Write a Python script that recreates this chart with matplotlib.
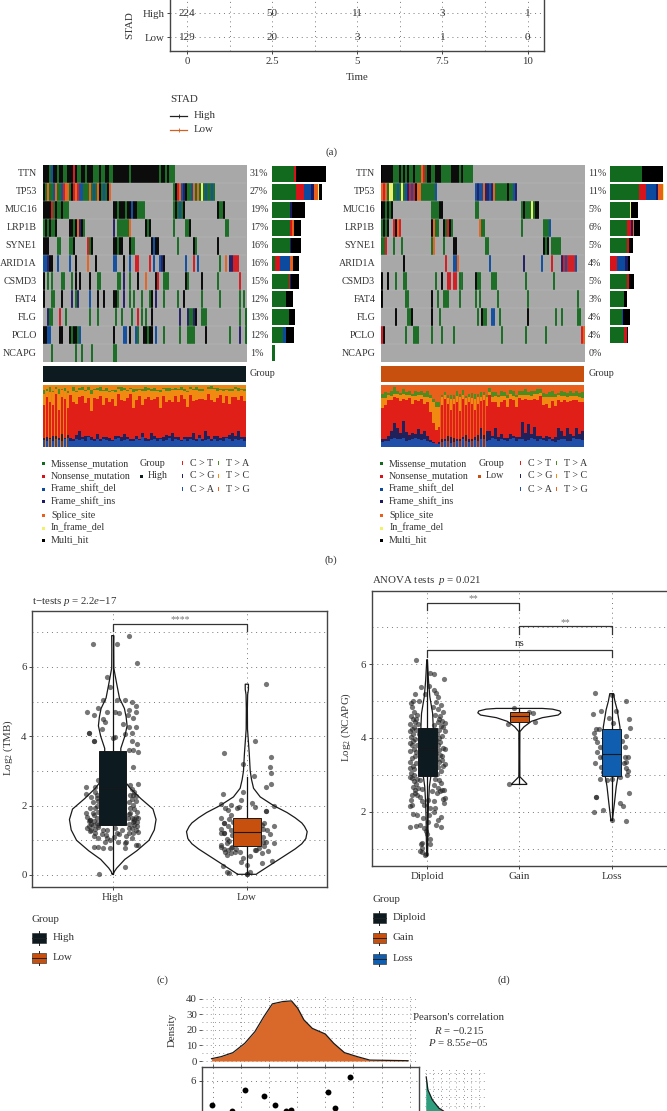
from __future__ import annotations

import matplotlib
matplotlib.use("Agg")
import matplotlib.pyplot as plt
import numpy as np
from matplotlib.colors import ListedColormap
from matplotlib.patches import Rectangle

plt.rcParams["font.family"] = ["Liberation Serif", "DejaVu Serif"]
plt.rcParams["mathtext.fontset"] = "custom"
plt.rcParams["mathtext.rm"] = "Liberation Serif"
plt.rcParams["mathtext.it"] = "Liberation Serif:italic"

W, H = 667, 1111
INK = "#333333"
GRID = "#777777"
DOT = (0, (1, 4))

# ---- panel a: risk table
TIME_TICKS = [0, 2.5, 5, 7.5, 10]
TIME_LABELS = ["0", "2.5", "5", "7.5", "10"]
RISK_HIGH = [224, 50, 11, 3, 1]
RISK_LOW = [129, 20, 3, 1, 0]

# ---- panel b: oncoplots
GENES = ["TTN", "TP53", "MUC16", "LRP1B", "SYNE1", "ARID1A", "CSMD3", "FAT4", "FLG", "PCLO", "NCAPG"]
PCT_HIGH = ["31%", "27%", "19%", "17%", "16%", "16%", "15%", "12%", "13%", "12%", "1%"]
PCT_LOW = ["11%", "11%", "5%", "6%", "5%", "4%", "5%", "3%", "4%", "4%", "0%"]

VARIANTS = ["Missense_mutation", "Nonsense_mutation", "Frame_shift_del", "Frame_shift_ins",
            "Splice_site", "In_frame_del", "Multi_hit"]
VARIANT_CODES = "MNDISFH"
VARIANT_COLORS = ["#126a1e", "#d6141c", "#0b4a9e", "#1c1a62", "#e8601c", "#f2f26a", "#000000"]
N_SAMPLES = 102

# (first sample, variant codes of consecutive samples), one list per gene
MUT_HIGH = [
    [(0, "HHHMDHHMHHMMHHHNHMMHHMHHHMMMHMMHHMMHHHHHHHHMHHHHHHHHHHHHHHMHHMHMMM")],
    [(0, "HMSMMDSMMDNSSMHNSNDDMMMSMDMSHMDMHS"), (65, "MHNSDIHMMDSMSMFMDMMDM")],
    [(0, "HHHHNMHMMHMMM"), (35, "HHMHHHMHHDHHMMMM"), (65, "MHMDMH"), (87, "HMMH")],
    [(0, "MHMHMMH"), (13, "HHMHSIHM"), (35, "I.MMMMMMS"), (51, "HMH"), (65, "M"), (71, "MMH"), (91, "MM")],
    [(0, "HHH"), (7, "MM"), (13, "MMH"), (22, "NMH"), (35, "HHMHH"), (43, "HMM"), (54, "HDHH"), (67, "M"),
     (75, "HM"), (87, "H")],
    [(0, "DDIHH"), (7, "D"), (13, "D"), (16, "H"), (22, "S"), (26, "H"), (35, "DD"), (40, "H"), (43, "D"),
     (46, "NN"), (53, "N"), (55, "D"), (58, "DIH"), (71, "D"), (75, "N"), (77, "D"), (88, "M"), (91, "S"),
     (93, "IINNN")],
    [(0, "H"), (2, "M"), (4, "M"), (9, "MM"), (14, "M"), (16, "H"), (18, "H"), (23, "H"), (27, "MM"),
     (37, "MM"), (40, "I"), (43, "M"), (47, "H"), (51, "S"), (56, "HN"), (60, "MMM"), (71, "HM"), (79, "H"),
     (87, "M"), (98, "N")],
    [(0, "H"), (4, "MM"), (9, "H"), (14, "I"), (16, "MI"), (23, "D"), (27, "H"), (30, "H"), (35, "HHM"),
     (40, "I"), (43, "M"), (45, "M"), (49, "M"), (53, "MH"), (56, "I"), (60, "M"), (67, "M"), (70, "H"),
     (79, "M"), (88, "M"), (98, "M"), (100, "M")],
    [(2, "IMM"), (8, "N"), (11, "M"), (23, "M"), (27, "M"), (36, "M"), (39, "M"), (44, "M"), (47, "N"),
     (49, "M"), (51, "M"), (54, "H"), (68, "I"), (72, "IMMIH"), (79, "MMM"), (98, "M"), (101, "M")],
    [(0, "HHDD"), (8, "HH"), (13, "HMHHMD"), (35, "H"), (40, "DD"), (43, "H"), (46, "DM"), (50, "HHMHH"),
     (56, "D"), (60, "M"), (68, "M"), (72, "MMMM"), (81, "H"), (93, "M"), (98, "I"), (101, "M")],
    [(4, "M"), (16, "M"), (19, "M"), (24, "M"), (35, "MM")],
]
MUT_LOW = [
    [(0, "HHHHHHMMMHMHMHMMHMMMSNMHHMMHHHMMMMMHHHHMHMMMMM")],
    [(0, "SNSMFFMMDMFMDINDNHSSMMMMMMMD"), (47, "DIDDSIIDISMMMMMMHMMDI")],
    [(0, "HHMHMH"), (25, "MMMMHH"), (47, "MM"), (70, "MHMMMFMHH")],
    [(0, "MHMH"), (6, "NHSN"), (25, "HSMM"), (31, "HMNHM"), (49, "SMM"), (70, "M"), (81, "MMMD")],
    [(0, "MMN"), (6, "M"), (10, "M"), (25, "MS"), (31, "M"), (36, "HH"), (52, "MM"), (81, "HMH"), (85, "MMMMM")],
    [(11, "H"), (32, "N"), (36, "DDS"), (54, "D"), (71, "I"), (80, "D"), (85, "N"), (90, "INDNNNND")],
    [(0, "H"), (3, "H"), (7, "M"), (11, "MM"), (27, "M"), (30, "H"), (33, "NN"), (36, "NN"), (39, "MM"),
     (47, "HMM"), (55, "MMM"), (72, "M"), (86, "M")],
    [(0, "H"), (12, "MM"), (25, "H"), (28, "M"), (31, "MM"), (33, "M"), (39, "M"), (47, "M"), (49, "M"),
     (58, "M"), (73, "M"), (98, "M")],
    [(7, "H"), (13, "MMH"), (25, "H"), (29, "M"), (48, "M"), (50, "HMM"), (55, "DD"), (59, "M"), (73, "H"),
     (87, "M"), (90, "M"), (98, "MM")],
    [(0, "NH"), (12, "M"), (16, "MMM"), (25, "M"), (30, "M"), (36, "M"), (60, "M"), (72, "M"), (82, "M"),
     (100, "NS")],
    [],
]

# side bars, one column per variant in VARIANT_CODES order
BAR_HIGH = [
    [66, 6, 0, 0, 0, 0, 91],
    [73, 22, 22, 9, 12, 3, 8],
    [55, 0, 0, 4, 0, 0, 39],
    [55, 4, 0, 0, 6, 0, 23],
    [55, 0, 0, 3, 0, 0, 28],
    [10, 15, 30, 0, 8, 0, 19],
    [50, 3, 0, 5, 0, 0, 22],
    [43, 0, 0, 0, 0, 0, 21],
    [50, 0, 0, 1, 0, 0, 17],
    [33, 0, 10, 0, 0, 0, 22],
    [9, 0, 0, 0, 0, 0, 0],
]
BAR_LOW = [
    [95, 0, 0, 0, 0, 0, 65],
    [87, 22, 30, 4, 15, 5, 0],
    [60, 0, 0, 0, 0, 2, 22],
    [52, 12, 0, 5, 3, 0, 18],
    [50, 8, 0, 0, 0, 0, 11],
    [0, 20, 25, 10, 0, 0, 5],
    [50, 8, 0, 0, 0, 0, 15],
    [42, 0, 0, 0, 0, 0, 8],
    [37, 0, 3, 0, 0, 0, 20],
    [42, 10, 0, 0, 0, 0, 3],
    [0, 0, 0, 0, 0, 0, 0],
]

SUBST_COLORS = {"C > A": "#1f4fa8", "C > G": "#20205a", "C > T": "#e02018",
                "T > C": "#f08a10", "T > A": "#4c8c20", "T > G": "#e8601c"}

# share of each substitution per sample column (percent), the rest is the top band
STACK_HIGH = {
    "C > A": [11, 10, 12, 9, 13, 11, 10, 12, 14, 10,
              9, 13, 11, 12, 10, 15, 11, 9, 12, 10,
              13, 11, 10, 9, 12, 14, 10, 11, 13, 9,
              10, 12, 11, 15, 10, 9, 11, 13, 10, 12,
              9, 11, 14, 10, 12, 11, 9, 13, 10, 12,
              11, 10, 14, 9, 11, 13, 10, 12, 9, 11,
              10, 14, 12, 10, 13, 11, 12, 10],
    "C > G": [3, 5, 2, 8, 4, 3, 11, 2, 5, 4,
              3, 6, 14, 3, 7, 2, 5, 4, 9, 2,
              3, 5, 4, 2, 6, 3, 5, 10, 2, 4,
              3, 5, 2, 7, 4, 3, 12, 5, 4, 2,
              6, 8, 3, 13, 4, 5, 2, 3, 6, 4,
              11, 2, 5, 3, 14, 4, 2, 6, 9, 3,
              5, 2, 7, 12, 4, 15, 3, 6],
    "C > T": [54, 66, 58, 51, 68, 46, 59, 64, 44, 69,
              61, 50, 56, 67, 54, 62, 42, 66, 56, 70,
              52, 63, 58, 66, 48, 68, 60, 53, 64, 72,
              50, 58, 69, 46, 64, 68, 52, 60, 66, 48,
              67, 54, 59, 50, 66, 56, 72, 62, 49, 68,
              52, 64, 58, 66, 50, 69, 63, 55, 61, 69,
              56, 66, 51, 58, 64, 50, 67, 58],
    "T > C": [18, 9, 16, 20, 8, 26, 12, 12, 24, 10,
              18, 20, 11, 10, 20, 13, 28, 13, 15, 9,
              22, 12, 16, 14, 22, 9, 15, 18, 11, 9,
              26, 16, 10, 22, 13, 12, 16, 13, 11, 27,
              11, 18, 14, 19, 10, 20, 9, 13, 24, 9,
              18, 16, 14, 12, 15, 8, 18, 20, 12, 9,
              20, 10, 20, 11, 12, 14, 10, 16],
    "T > A": [6, 3, 8, 2, 4, 7, 2, 5, 3, 1,
              5, 2, 3, 4, 1, 4, 6, 2, 3, 5,
              2, 4, 3, 1, 4, 2, 6, 3, 2, 1,
              5, 3, 2, 4, 6, 3, 2, 4, 1, 3,
              2, 4, 5, 1, 3, 2, 4, 3, 2, 3,
              1, 4, 2, 3, 1, 3, 5, 2, 4, 1,
              3, 2, 4, 2, 3, 5, 1, 4],
}
STACK_LOW = {
    "C > A": [8, 10, 9, 12, 14, 13, 12, 14, 10, 11,
              13, 14, 12, 11, 13, 10, 8, 6, 4, 5,
              7, 10, 9, 6, 8, 9, 10, 12, 9, 8,
              10, 11, 9, 12, 13, 10, 11, 14, 12, 10,
              13, 11, 9, 12, 14, 10, 12, 13, 9, 11,
              14, 12, 10, 13, 11, 9, 12, 10, 8, 11,
              13, 12, 9, 10, 14, 12, 13, 11],
    "C > G": [5, 3, 8, 14, 24, 18, 10, 28, 14, 8,
              9, 6, 16, 9, 12, 8, 3, 2, 1, 3,
              6, 2, 8, 9, 6, 3, 2, 4, 10, 5,
              3, 5, 10, 18, 6, 16, 14, 4, 18, 6,
              8, 3, 5, 9, 4, 6, 3, 27, 14, 25,
              6, 20, 8, 5, 3, 9, 4, 2, 8, 20,
              12, 6, 22, 10, 4, 18, 8, 14],
    "C > T": [50, 54, 58, 50, 42, 48, 52, 36, 52, 60,
              48, 56, 46, 58, 44, 54, 46, 30, 22, 24,
              54, 66, 52, 44, 56, 60, 46, 62, 48, 60,
              56, 44, 50, 44, 56, 40, 58, 54, 42, 48,
              52, 62, 50, 56, 58, 48, 64, 36, 54, 40,
              56, 46, 58, 64, 54, 52, 46, 62, 50, 44,
              48, 58, 42, 54, 58, 46, 52, 48],
    "T > C": [16, 12, 8, 6, 6, 6, 10, 8, 8, 5,
              12, 6, 10, 6, 12, 9, 22, 34, 38, 32,
              14, 5, 10, 18, 8, 10, 22, 5, 12, 8,
              10, 18, 12, 6, 8, 14, 5, 9, 10, 16,
              9, 6, 15, 8, 6, 16, 5, 8, 6, 8,
              6, 8, 9, 5, 12, 10, 18, 6, 14, 8,
              9, 6, 8, 8, 6, 6, 8, 6],
    "T > A": [6, 9, 4, 8, 10, 5, 3, 7, 4, 6,
              3, 8, 5, 7, 6, 9, 4, 6, 8, 9,
              3, 6, 4, 7, 5, 8, 6, 9, 3, 5,
              8, 7, 4, 9, 5, 3, 7, 8, 6, 4,
              9, 6, 5, 7, 8, 4, 6, 7, 10, 5,
              8, 4, 9, 6, 7, 5, 8, 10, 6, 4,
              9, 7, 6, 8, 5, 9, 6, 10],
}

# ---- panel c: TMB, (horizontal jitter, log2 TMB)
TMB_HIGH = [
    (.12, 6.9), (-.15, 6.66), (.03, 6.66), (.18, 6.1), (-.04, 5.72), (-.02, 5.43), (-.19, 4.71), (-.14, 4.62),
    (-.11, 4.8), (-.04, 4.69), (-.07, 5.05), (.03, 5.05), (.09, 5.05), (.14, 4.98), (.17, 4.86), (.17, 4.71),
    (.12, 4.76), (.02, 4.71), (.05, 4.68), (.11, 4.6), (.15, 4.54), (.08, 4.35), (-.07, 4.49), (-.06, 4.4),
    (-.08, 4.21), (.17, 4.28), (.12, 4.28), (-.18, 4.1), (-.18, 4.1), (.14, 4.09), (.09, 4.07), (0, 3.96),
    (.02, 3.97), (-.14, 3.87), (-.14, 3.87), (.14, 3.87), (.18, 3.78), (.12, 3.6), (.15, 3.6), (.19, 3.54),
    (.15, 3.12), (.19, 2.62), (-.2, 2.55), (-.11, 2.74), (-.2, 2.33), (.14, 2.48), (.17, 2.29), (-.13, 2.4),
    (-.12, 2.21), (-.11, 2.12), (-.17, 1.94), (-.13, 1.92), (-.2, 1.8), (-.19, 1.68), (-.14, 1.73), (-.11, 1.83),
    (-.17, 1.59), (-.17, 1.59), (.18, 1.83), (.17, 1.68), (.15, 2.02), (.17, 2.12), (.14, 1.63), (.18, 1.52),
    (.15, 1.52), (.11, 1.63), (.13, 1.92), (-.19, 1.35), (-.16, 1.3), (-.11, 1.39), (-.07, 1.3), (-.04, 1.3),
    (-.13, 1.2), (.02, 1.35), (.07, 1.3), (.12, 1.35), (.17, 1.3), (.19, 1.25), (.12, 1.2), (.03, 1.2),
    (-.04, 1.06), (-.06, .96), (-.02, 1.01), (.04, .96), (.09, .91), (.1, .96), (-.14, .82), (-.11, .8),
    (-.07, .77), (-.02, .77), (.09, .77), (.17, .87), (.19, .87), (-.1, .03), (.09, .24), (-.12, 1.5),
    (-.15, 1.45), (.16, 1.9), (.13, 2.3), (-.15, 2.1), (-.12, 1.65), (.12, 1.75), (.16, 1.45), (.14, 2.2),
    (-.16, 1.48), (-.18, 1.42), (-.14, 1.55), (-.11, 1.45), (-.13, 1.32), (-.17, 1.27), (-.14, 1.12), (-.11, 1.08),
    (-.08, 1.18), (-.05, 1.15), (.01, 1.1), (.05, 1.18), (.1, 1.12), (.14, 1.08), (.15, 1.2), (.18, 1.4),
    (.12, 1.48), (.14, 1.35), (.16, 1.6), (.13, 1.78), (.12, 2.1), (.15, 2.3), (.16, 2.4), (-.16, 2.25),
    (-.13, 2.55), (-.12, 2.3), (-.15, 1.8), (-.12, 1.98), (.13, 2.6), (.16, 1.55), (.19, 1.65), (-.18, 1.55),
]
TMB_LOW = [
    (.14, 5.51), (-.17, 3.53), (.06, 3.85), (-.03, 3.2), (.18, 3.39), (.17, 3.1), (.18, 2.95), (.05, 2.84),
    (.14, 2.53), (.18, 2.63), (-.18, 2.33), (-.03, 2.4), (-.19, 2.05), (-.12, 2.02), (-.04, 2.16), (.04, 2.07),
    (.06, 1.95), (.2, 1.99), (-.16, 1.94), (-.14, 1.88), (-.07, 1.92), (.14, 1.85), (.14, 1.85), (-.19, 1.63),
    (-.12, 1.73), (-.17, 1.51), (-.17, 1.51), (-.1, 1.54), (.13, 1.49), (.2, 1.41), (-.19, 1.32), (-.17, 1.2),
    (-.17, 1.2), (-.19, 1.2), (.12, 1.32), (.15, 1.3), (.17, 1.17), (-.11, 1.15), (-.12, 1.3), (-.19, .87),
    (-.19, .82), (-.15, .91), (-.11, .82), (.12, .96), (.2, .93), (.14, .96), (-.16, .67), (-.12, .62),
    (-.15, .58), (-.09, .67), (-.05, .67), (.07, .72), (.11, .64), (.16, .69), (-.04, .37), (0, .29),
    (.11, .36), (.19, .4), (-.18, .26), (-.15, .08), (-.13, .05), (0, .02), (0, .02), (.02, .08), (.06, .72),
    (-.14, 1.4), (-.15, 1.05), (-.13, .98), (-.17, .75), (-.12, .78), (-.08, .75), (.12, 1.1), (.13, .85),
    (.11, 1.45), (-.13, 1.6), (-.06, 1.95), (.09, .78), (-.14, .72), (.02, .55), (-.03, .5),
]
VIOLIN_HIGH_Y = [.03, .1, .2, .45, .7, 1.0, 1.3, 1.6, 1.9, 2.2, 2.5, 2.7, 3.0, 3.3, 3.65, 4.0, 4.3, 4.55, 4.8, 5.1, 5.5, 5.96, 6.5, 6.9]
VIOLIN_HIGH_W = [.004, .012, .03, .09, .18, .27, .31, .323, .3, .21, .13, .09, .07, .06, .06, .09, .107, .1, .087, .05, .03, .008, .007, .008]
VIOLIN_LOW_Y = [.02, .05, .1, .2, .3, .45, .6, .75, .9, 1.05, 1.25, 1.4, 1.5, 1.65, 1.8, 2.0, 2.25, 2.5, 2.75, 3.0, 3.5, 4.2, 4.8, 5.2, 5.35, 5.5]
VIOLIN_LOW_W = [.07, .08, .1, .14, .18, .24, .3, .36, .41, .44, .45, .43, .41, .36, .3, .2, .1, .05, .035, .025, .018, .005, .004, .006, .012, .012]
# group position, q1, median, q3, whisker low, whisker high
BOX_TMB = [(0, 1.44, 2.5, 3.56, .03, 6.9), (1, .84, 1.25, 1.65, .03, 2.83)]

# ---- panel d: NCAPG, (horizontal jitter, log2 NCAPG)
NCAPG_DIPLOID = [
    (-.12, 6.12), (.07, 5.74), (.03, 5.76), (.18, 5.61), (-.07, 5.38), (.08, 5.3), (-.13, 5.19), (.12, 5.1),
    (.02, 5.4), (-.02, 5.2), (.1, 5.22), (-.15, 5.0), (-.17, 4.95), (-.09, 5.0), (.1, 4.98), (.15, 4.9),
    (-.16, 4.85), (.06, 4.85), (.12, 4.78), (.17, 4.7), (-.14, 4.7), (-.17, 4.6), (-.11, 4.62), (.09, 4.62),
    (.14, 4.6), (-.15, 4.5), (-.13, 4.42), (.16, 4.45), (.19, 4.4), (.12, 4.42), (-.18, 4.38), (-.1, 4.38),
    (.08, 4.35), (.17, 4.3), (-.16, 4.25), (-.19, 4.2), (-.12, 4.22), (.13, 4.22), (.19, 4.2), (-.15, 4.12),
    (-.09, 4.1), (.11, 4.1), (.16, 4.05), (-.17, 4.02), (-.13, 3.98), (.1, 3.95), (.14, 3.9), (-.19, 3.85),
    (-.16, 3.8), (-.11, 3.82), (.12, 3.8), (.17, 3.72), (.19, 3.7), (-.14, 3.7), (-.18, 3.65), (.1, 3.6),
    (.14, 3.55), (-.13, 3.52), (-.16, 3.45), (.11, 3.42), (.19, 3.3), (.16, 3.4), (-.19, 3.18), (-.15, 3.25),
    (-.12, 3.32), (.12, 3.2), (.15, 3.1), (-.17, 3.05), (-.14, 3.0), (.11, 3.02), (-.16, 2.92), (-.11, 2.9),
    (-.08, 2.85), (.09, 2.88), (.13, 2.85), (-.14, 2.82), (-.12, 2.75), (.07, 2.72), (.12, 2.65), (.16, 2.6),
    (-.1, 2.65), (-.05, 2.62), (.14, 2.55), (.11, 2.5), (.17, 2.35), (.19, 2.38), (-.13, 2.5), (-.11, 2.45),
    (-.08, 2.4), (-.17, 2.32), (-.05, 2.28), (.01, 2.32), (.08, 2.3), (.18, 2.25), (-.18, 2.15), (-.16, 2.17),
    (-.03, 2.18), (.03, 2.1), (-.15, 1.95), (-.11, 1.92), (.08, 1.98), (.15, 1.85), (.12, 1.78), (.02, 1.9),
    (-.04, 1.82), (.01, 1.72), (-.18, 1.6), (-.12, 1.62), (-.08, 1.65), (-.03, 1.55), (.1, 1.65), (.15, 1.58),
    (-.01, 1.48), (0, 1.4), (.03, 1.25), (-.07, 1.12), (-.06, 1.15), (.03, 1.12), (-.08, .95), (-.05, .92),
    (-.01, .85), (-.02, .82), (-.06, 1.02), (-.14, 4.3), (.15, 4.32), (-.12, 4.52), (.13, 4.5), (-.15, 3.92),
    (.13, 3.68), (-.12, 3.62), (.16, 3.5), (-.18, 3.35), (-.14, 3.15), (.13, 3.35), (.17, 3.25), (-.19, 2.95),
    (-.15, 2.68), (-.13, 2.6), (.15, 2.78), (.18, 2.6), (-.16, 2.45), (.05, 2.55), (.09, 2.1), (.13, 4.0),
]
NCAPG_GAIN = [(-.11, 2.75), (-.06, 4.8), (-.12, 4.38), (.17, 4.44), (.1, 4.71), (.15, 4.67), (.06, 4.5)]
NCAPG_LOSS = [
    (-.18, 5.23), (.16, 4.99), (0, 5.17), (-.2, 4.64), (-.12, 4.74), (.05, 4.74), (-.03, 4.53), (.19, 4.52),
    (.02, 4.4), (-.17, 4.25), (-.14, 4.24), (.2, 4.26), (-.19, 4.13), (-.18, 4.01), (-.16, 3.9), (.16, 4.06),
    (.11, 3.92), (-.13, 3.76), (.15, 3.76), (-.16, 3.63), (.14, 3.49), (.18, 3.49), (-.09, 3.49), (-.13, 3.49),
    (-.18, 3.33), (.16, 3.36), (.13, 3.31), (-.11, 3.22), (.16, 3.18), (.18, 3.1), (-.09, 3.09), (.17, 3.0),
    (.09, 2.95), (-.13, 2.88), (-.05, 2.86), (0, 2.9), (-.17, 2.39), (-.17, 2.39), (.19, 2.5), (.09, 2.23),
    (.12, 2.15), (-.09, 2.05), (-.19, 1.99), (.16, 1.76), (0, 1.77), (.07, 4.04), (-.05, 3.86), (.05, 3.4),
]
VIOLIN_DIP_Y = [.82, 1.3, 1.77, 2.2, 2.68, 3.13, 3.6, 4.04, 4.4, 4.67, 5.12, 5.57, 6.12]
VIOLIN_DIP_W = [.004, .008, .01, .015, .025, .05, .07, .07, .065, .06, .03, .015, .003]
VIOLIN_GAIN_Y = [2.74, 2.76, 2.95, 3.5, 4.17, 4.3, 4.45, 4.55, 4.62, 4.68, 4.73, 4.78, 4.8]
VIOLIN_GAIN_W = [.08, .08, .005, .004, .005, .05, .13, .25, .42, .45, .44, .36, .25]
VIOLIN_LOSS_Y = [1.77, 2.23, 2.68, 3.13, 3.7, 4.3, 4.76, 5.0, 5.2]
VIOLIN_LOSS_W = [.008, .03, .05, .08, .1, .09, .06, .035, .02]
BOX_NCAPG = [(0, 2.98, 3.7, 4.26, .82, 6.12), (1, 4.44, 4.6, 4.69, 2.74, 4.8), (2, 2.98, 3.56, 4.24, 1.77, 5.2)]

GROUP_COLORS = ["#0d1a20", "#c8500f", "#0f5eb0"]

# ---- panel e: marginal density and scatter
DENS_X = [1.98, 2.15, 2.36, 2.57, 2.75, 2.91, 3.06, 3.25, 3.4, 3.51, 3.62, 3.77, 4.0, 4.15, 4.34, 4.57, 4.79, 5.47]
DENS_Y = [1.5, 2.8, 5.4, 11.4, 18.9, 28.6, 36.8, 38.3, 38.7, 34, 26.5, 21, 17.4, 11.4, 5.4, 2.8, .6, .2]
SCATTER_X = [1.98, 2.35, 2.57, 2.92, 3.1, 3.3, 3.4, 4.05, 4.18, 4.44]
SCATTER_Y = [5.26, 5.1, 5.72, 5.53, 5.26, 5.1, 5.13, 5.66, 5.18, 6.12]
SIDE_Y = [6.12, 5.73, 5.43, 5.18, 5.1, 4.9]
SIDE_D = [.3, 1.4, 4.3, 8.6, 11.4, 17]


def px_axes(fig, left, top, right, bottom, **kwargs):
    return fig.add_axes([left / W, 1 - bottom / H, (right - left) / W, (bottom - top) / H], **kwargs)


def dotted_grid(ax, xs, ys, lw=0.7):
    for x in xs:
        ax.axvline(x, color=GRID, lw=lw, ls=DOT, zorder=0)
    for y in ys:
        ax.axhline(y, color=GRID, lw=lw, ls=DOT, zorder=0)


def style_spines(ax):
    for s in ax.spines.values():
        s.set_color("#444444")
        s.set_linewidth(1.0)
    ax.tick_params(length=2, width=0.7, color="#444444", labelsize=7.8, labelcolor=INK, pad=2)


def plot_risk_table(fig, note):
    ax = px_axes(fig, 170, -10, 544, 51)
    ax.set_xlim(-0.5, 10.48)
    ax.set_ylim(-0.583, 1.96)
    style_spines(ax)
    dotted_grid(ax, np.arange(0, 10.1, 1.25), [0, 1])
    ax.set_xticks(TIME_TICKS, TIME_LABELS)
    ax.set_yticks([1, 0], ["High", "Low"])
    for t, hi, lo in zip(TIME_TICKS, RISK_HIGH, RISK_LOW):
        ax.text(t, 1, str(hi), ha="center", va="center", fontsize=8, color=INK)
        ax.text(t, 0, str(lo), ha="center", va="center", fontsize=8, color=INK)
    note.text(130, 25, "STAD", rotation=90, ha="center", va="center", fontsize=7.8, color=INK)
    note.text(357, 78, "Time", ha="center", va="center", fontsize=7.8, color=INK)
    note.text(170, 100, "STAD", ha="left", va="center", fontsize=7.8, color=INK)
    for y, label, color in [(115.5, "High", "#222222"), (130, "Low", "#d06020")]:
        note.plot([170, 187], [y, y], color=color, lw=0.9)
        note.plot([178.5], [y], marker="|", ms=3.5, mew=0.6, color=color)
        note.text(194, y, label, ha="left", va="center", fontsize=7.8, color=INK)
    note.text(332, 152, "(a)", ha="center", va="center", fontsize=7.8, color=INK)


def mutation_matrix(runs_by_gene):
    matrix = np.zeros((len(GENES), N_SAMPLES), dtype=int)
    for i, runs in enumerate(runs_by_gene):
        for start, codes in runs:
            for k, code in enumerate(codes):
                if code != "." and start + k < N_SAMPLES:
                    matrix[i, start + k] = VARIANT_CODES.index(code) + 1
    return matrix


def plot_oncoplot(fig, note, x0, runs, bars, pcts, stack, group_color, group_label, top_band):
    top, bottom = 165, 362
    row_h = (bottom - top) / len(GENES)
    ax = px_axes(fig, x0, top, x0 + 203.5, bottom)
    cmap = ListedColormap(["#a8a8a8"] + VARIANT_COLORS)
    ax.imshow(mutation_matrix(runs), cmap=cmap, vmin=0, vmax=7, aspect="auto", interpolation="nearest")
    for k in range(N_SAMPLES - 1):
        ax.axvline(k + 0.5, color="#b4b4b4", lw=0.2, alpha=0.5)
    for k in range(len(GENES) - 1):
        ax.axhline(k + 0.5, color="#c4c4c4", lw=0.25)
    ax.axis("off")

    for i, (gene, pct) in enumerate(zip(GENES, pcts)):
        y = top + row_h * (i + 0.5)
        note.text(x0 - 5.5, y, gene, ha="right", va="center", fontsize=7.2, color=INK)
        note.text(x0 + 207.5, y, pct, ha="left", va="center", fontsize=7.2, color=INK)

    side = px_axes(fig, x0 + 229.5, top, x0 + 286, bottom)
    left = np.zeros(len(GENES))
    values = np.array(bars, dtype=float)
    for j, color in enumerate(VARIANT_COLORS):
        side.barh(np.arange(len(GENES)), values[:, j], left=left, height=0.88, color=color, lw=0)
        left += values[:, j]
    side.set_xlim(0, 170)
    side.set_ylim(len(GENES) - 0.5, -0.5)
    side.axis("off")

    grp = px_axes(fig, x0, 365.7, x0 + 203.5, 382.3)
    grp.set_facecolor(group_color)
    grp.set_xticks([])
    grp.set_yticks([])
    for s in grp.spines.values():
        s.set_visible(False)
    note.text(x0 + 207.5, 374, "Group", ha="left", va="center", fontsize=7.2, color=INK)

    st = px_axes(fig, x0, 385, x0 + 203.5, 446.7)
    st.set_facecolor(top_band)
    bottoms = None
    for name in ["C > A", "C > G", "C > T", "T > C", "T > A"]:
        vals = np.array(stack[name], dtype=float)
        if bottoms is None:
            bottoms = np.zeros(len(vals))
        st.bar(np.arange(len(vals)), vals, bottom=bottoms, width=0.96, color=SUBST_COLORS[name], lw=0)
        bottoms = bottoms + vals
    st.set_xlim(-0.5, len(bottoms) - 0.5)
    st.set_ylim(0, 100)
    st.set_xticks([])
    st.set_yticks([])
    for s in st.spines.values():
        s.set_visible(False)

    # legend under the plot
    rows = [463.3, 476, 489, 501.7, 515, 528, 540]
    for y, name, color in zip(rows, VARIANTS, VARIANT_COLORS):
        note.add_patch(Rectangle((x0 - 1, y - 1.5), 3, 3, color=color, lw=0))
        note.text(x0 + 8.5, y, name, ha="left", va="center", fontsize=7.2, color=INK)
    note.text(x0 + 97.5, rows[0], "Group", ha="left", va="center", fontsize=7.2, color=INK)
    note.add_patch(Rectangle((x0 + 97.7, rows[1] - 1.5), 3, 3, color=group_color, lw=0))
    note.text(x0 + 105, rows[1], group_label, ha="left", va="center", fontsize=7.2, color=INK)
    for lx, names in [(x0 + 140, ["C > T", "C > G", "C > A"]), (x0 + 176, ["T > A", "T > C", "T > G"])]:
        for y, name in zip(rows, names):
            note.add_patch(Rectangle((lx - 0.6, y - 2), 1.3, 4, color=SUBST_COLORS[name], lw=0))
            note.text(lx + 7.5, y, name, ha="left", va="center", fontsize=7.2, color=INK)


def draw_violin(ax, pos, ys, widths):
    ys = np.array(ys)
    widths = np.array(widths)
    ax.plot(np.r_[pos - widths, (pos + widths)[::-1], pos - widths[0]], np.r_[ys, ys[::-1], ys[0]],
            color="#1a1a1a", lw=0.9, zorder=3, solid_joinstyle="round")


def draw_points(ax, pos, points):
    pts = np.array(points)
    ax.scatter(pos + pts[:, 0], pts[:, 1], s=14, color="#222222", alpha=0.62, lw=0, zorder=2)


def draw_boxes(ax, boxes, half):
    for (pos, q1, med, q3, lo, hi), color in zip(boxes, GROUP_COLORS):
        ax.plot([pos, pos], [lo, hi], color="#111111", lw=0.9, zorder=3.5)
        ax.add_patch(Rectangle((pos - half, q1), 2 * half, q3 - q1, facecolor=color,
                               edgecolor="#15191c", lw=0.7, zorder=4))
        ax.plot([pos - half, pos + half], [med, med], color="#15191c", lw=0.8, zorder=5)


def bracket(ax, x0, x1, y, drop, label, label_y, color="#444444", size=7.5):
    ax.plot([x0, x0, x1, x1], [y - drop, y, y, y - drop], color="#333333", lw=0.9, zorder=5)
    ax.text((x0 + x1) / 2, label_y, label, ha="center", va="center", fontsize=size, color=color)


def group_legend(note, x, text_x, title_y, rows, labels):
    note.text(x, title_y, "Group", ha="left", va="center", fontsize=7.8, color=INK)
    for y, label, color in zip(rows, labels, GROUP_COLORS):
        note.plot([x + 6.8, x + 6.8], [y - 7, y + 7], color="#222222", lw=0.7)
        note.add_patch(Rectangle((x, y - 5), 13.6, 10, facecolor=color, edgecolor="#222222", lw=0.4, zorder=3))
        note.plot([x, x + 13.6], [y, y], color="#222222", lw=0.7, zorder=4)
        note.text(text_x, y, label, ha="left", va="center", fontsize=7.8, color=INK)


def plot_tmb(fig, note):
    ax = px_axes(fig, 32.3, 611, 327.3, 887)
    ax.set_xlim(-0.6, 1.6)
    ax.set_ylim(-0.346, 7.61)
    style_spines(ax)
    dotted_grid(ax, [0, 1], range(8))
    draw_points(ax, 0, TMB_HIGH)
    draw_points(ax, 1, TMB_LOW)
    draw_violin(ax, 0, VIOLIN_HIGH_Y, VIOLIN_HIGH_W)
    draw_violin(ax, 1, VIOLIN_LOW_Y, VIOLIN_LOW_W)
    draw_boxes(ax, BOX_TMB, 0.102)
    bracket(ax, 0, 1, 7.24, 0.22, "****", 7.36, color="#777777", size=7)
    ax.set_xticks([0, 1], ["High", "Low"])
    ax.set_yticks([0, 2, 4, 6])
    note.text(32, 601, "t$-$tests $p$ = 2.2$e$$-$17", ha="left", va="center", fontsize=7.8, color=INK)
    note.text(8, 748, "Log$_2$ (TMB)", rotation=90, ha="center", va="center", fontsize=7.8, color=INK)
    group_legend(note, 32, 52.5, 920, [938, 958], ["High", "Low"])
    note.text(162, 980, "(c)", ha="center", va="center", fontsize=7.8, color=INK)


def plot_ncapg(fig, note):
    ax = px_axes(fig, 371.7, 590.7, 667, 866)
    ax.set_xlim(-0.6, 2.6)
    ax.set_ylim(0.53, 7.99)
    style_spines(ax)
    ax.spines["right"].set_visible(False)
    dotted_grid(ax, [0, 1, 2], range(1, 8))
    draw_points(ax, 0, NCAPG_DIPLOID)
    draw_points(ax, 1, NCAPG_GAIN)
    draw_points(ax, 2, NCAPG_LOSS)
    draw_violin(ax, 0, VIOLIN_DIP_Y, VIOLIN_DIP_W)
    draw_violin(ax, 1, VIOLIN_GAIN_Y, VIOLIN_GAIN_W)
    draw_violin(ax, 2, VIOLIN_LOSS_Y, VIOLIN_LOSS_W)
    draw_boxes(ax, BOX_NCAPG, 0.103)
    bracket(ax, 0, 1, 7.66, 0.2, "**", 7.77, color="#777777", size=7)
    bracket(ax, 1, 2, 7.02, 0.2, "**", 7.13, color="#777777", size=7)
    bracket(ax, 0, 2, 6.39, 0.2, "ns", 6.57, color=INK, size=7.8)
    ax.set_xticks([0, 1, 2], ["Diploid", "Gain", "Loss"])
    ax.set_yticks([2, 4, 6])
    note.text(372, 580.7, "ANOVA tests  $p$ = 0.021", ha="left", va="center", fontsize=7.8, color=INK)
    note.text(346, 727, "Log$_2$ (NCAPG)", rotation=90, ha="center", va="center", fontsize=7.8, color=INK)
    group_legend(note, 372.6, 392.7, 900, [917.7, 937.7, 958.6], ["Diploid", "Gain", "Loss"])
    note.text(503.6, 980, "(d)", ha="center", va="center", fontsize=7.8, color=INK)


def plot_correlation(fig, note):
    xlim = (1.805, 5.67)
    top_ax = px_axes(fig, 201.7, 995, 419.3, 1063.5)
    top_ax.set_xlim(*xlim)
    top_ax.set_ylim(-1.6, 42.5)
    dotted_grid(top_ax, np.arange(2, 5.6, 0.5), np.arange(0, 41, 5), lw=0.6)
    top_ax.fill_between(DENS_X, DENS_Y, color="#d9692a", lw=0, zorder=2)
    top_ax.plot(DENS_X, DENS_Y, color="#1a1a1a", lw=0.9, zorder=3)
    top_ax.set_xticks(np.arange(2, 5.6, 0.5), [])
    top_ax.set_yticks([0, 10, 20, 30, 40])
    top_ax.tick_params(length=2, width=0.6, labelsize=7.8, labelcolor=INK, pad=1.5, color="#444444")
    for s in top_ax.spines.values():
        s.set_visible(False)
    top_ax.patch.set_alpha(0)
    note.text(172, 1030, "Density", rotation=90, ha="center", va="center", fontsize=7.8, color=INK)

    ax = px_axes(fig, 201.7, 1067.3, 419.3, 1130)
    ax.set_xlim(*xlim)
    ax.set_ylim(4.52, 6.41)
    style_spines(ax)
    dotted_grid(ax, np.arange(2, 5.6, 0.5), [5, 6])
    ax.scatter(SCATTER_X, SCATTER_Y, s=18, color="black", lw=0, zorder=3, clip_on=True)
    ax.set_xticks([])
    ax.set_yticks([6])

    side = px_axes(fig, 425, 1067.3, 486.7, 1130)
    side.set_xlim(-0.5, 40)
    side.set_ylim(4.52, 6.41)
    dotted_grid(side, np.arange(0, 41, 5), np.arange(4.75, 6.3, 0.25), lw=0.6)
    side.fill_betweenx(SIDE_Y, SIDE_D, color="#2f9e7e", lw=0, zorder=2)
    side.plot(SIDE_D, SIDE_Y, color="#1a1a1a", lw=0.9, zorder=3)
    side.axis("off")

    note.text(458.8, 1017, "Pearson's correlation", ha="center", va="center", fontsize=7.8, color=INK)
    note.text(458.8, 1030, "$R$ = $-$0.215", ha="center", va="center", fontsize=7.8, color=INK)
    note.text(458.8, 1043, "$P$ = 8.55$e$$-$05", ha="center", va="center", fontsize=7.8, color=INK)


def main() -> None:
    fig = plt.figure(figsize=(W / 100, H / 100), dpi=100, facecolor="white")
    note = fig.add_axes([0, 0, 1, 1], zorder=10)
    note.set_xlim(0, W)
    note.set_ylim(H, 0)
    note.axis("off")
    note.patch.set_alpha(0)

    plot_risk_table(fig, note)
    plot_oncoplot(fig, note, 42.5, MUT_HIGH, BAR_HIGH, PCT_HIGH, STACK_HIGH, GROUP_COLORS[0], "High", "#ee8412")
    plot_oncoplot(fig, note, 380.7, MUT_LOW, BAR_LOW, PCT_LOW, STACK_LOW, GROUP_COLORS[1], "Low", "#e8601c")
    note.text(331, 560, "(b)", ha="center", va="center", fontsize=7.8, color=INK)
    plot_tmb(fig, note)
    plot_ncapg(fig, note)
    plot_correlation(fig, note)

    fig.savefig("out.png", dpi=100)
    plt.close(fig)


if __name__ == "__main__":
    main()
